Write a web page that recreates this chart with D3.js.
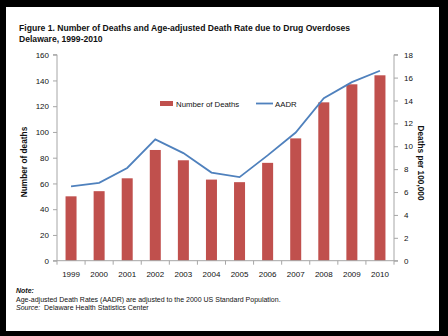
<!DOCTYPE html>
<html>
<head>
<meta charset="utf-8">
<script src="https://cdn.jsdelivr.net/npm/d3@7"></script>
<style>
  body { margin: 0; background: #000; }
  svg { display: block; font-family: Arial, "Liberation Sans", sans-serif; }
</style>
</head>
<body>
<div id="chart"></div>
<script>
const years = ["1999","2000","2001","2002","2003","2004","2005","2006","2007","2008","2009","2010"]
const deaths = [50, 54, 64, 86, 78, 63, 61, 76, 95, 123, 137, 144]
const aadr = [6.5, 6.8, 8.1, 10.6, 9.4, 7.7, 7.3, 9.2, 11.2, 14.2, 15.6, 16.6]
const leftTicks = [0, 20, 40, 60, 80, 100, 120, 140, 160]
const rightTicks = [0, 2, 4, 6, 8, 10, 12, 14, 16, 18]

const width = 448, height = 336
const svg = d3.select("#chart").append("svg")
    .attr("width", width).attr("height", height)

svg.append("rect").attr("width", width).attr("height", height).attr("fill", "#000")
svg.append("rect").attr("x", 6).attr("y", 7).attr("width", 433).attr("height", 324).attr("fill", "#fff")

// title
svg.append("text").attr("x", 19).attr("y", 31)
    .attr("font-size", 8.6).attr("font-weight", "bold").attr("fill", "#111")
    .text("Figure 1. Number of Deaths and Age-adjusted Death Rate due to Drug Overdoses")
svg.append("text").attr("x", 19).attr("y", 42)
    .attr("font-size", 8.6).attr("font-weight", "bold").attr("fill", "#111")
    .text("Delaware, 1999-2010")

const x0 = 57, x1 = 394, yTop = 54.7, yBot = 260.7

const x = d3.scaleBand().domain(years).range([x0, x1]).paddingInner(0.6).paddingOuter(0.3)
const xCenter = d3.scaleBand().domain(years).range([x0, x1])
const yL = d3.scaleLinear().domain([0, 160]).range([yBot, yTop])
const yR = d3.scaleLinear().domain([0, 18]).range([yBot, yTop])

const axisColor = "#a6a6a6"

// bars
svg.selectAll(".bar").data(years).enter().append("rect")
    .attr("class", "bar")
    .attr("x", (d, i) => xCenter(d) + xCenter.bandwidth() / 2 - 5.5)
    .attr("width", 11)
    .attr("y", (d, i) => yL(deaths[i]))
    .attr("height", (d, i) => yBot - yL(deaths[i]))
    .attr("fill", "#C0504D")

// line
const line = d3.line()
    .x((d, i) => xCenter(years[i]) + xCenter.bandwidth() / 2)
    .y(d => yR(d))
svg.append("path").datum(aadr)
    .attr("d", line)
    .attr("fill", "none")
    .attr("stroke", "#4F81BD")
    .attr("stroke-width", 1.8)

// left axis
const gL = svg.append("g").attr("transform", `translate(${x0},0)`)
    .call(d3.axisLeft(yL).tickValues(leftTicks).tickSize(4).tickPadding(4))
gL.select(".domain").attr("stroke", axisColor).attr("d", `M-4,${yTop}H0V${yBot}H-4`)
gL.selectAll(".tick line").attr("stroke", axisColor)
gL.selectAll("text").attr("font-size", 8).attr("fill", "#111").attr("font-family", "Arial, 'Liberation Sans', sans-serif")

// right axis
const gR = svg.append("g").attr("transform", `translate(${x1},0)`)
    .call(d3.axisRight(yR).tickValues(rightTicks).tickSize(4).tickPadding(6))
gR.select(".domain").attr("stroke", axisColor).attr("d", `M4,${yTop}H0V${yBot}H4`)
gR.selectAll(".tick line").attr("stroke", axisColor)
gR.selectAll("text").attr("font-size", 8).attr("fill", "#111").attr("font-family", "Arial, 'Liberation Sans', sans-serif")

// bottom axis
const gB = svg.append("g").attr("transform", `translate(0,${yBot})`)
gB.append("line").attr("x1", x0).attr("x2", x1).attr("stroke", axisColor)
gB.selectAll(".tk").data(d3.range(years.length + 1)).enter().append("line")
    .attr("x1", i => x0 + i * xCenter.step()).attr("x2", i => x0 + i * xCenter.step())
    .attr("y1", 0).attr("y2", 4).attr("stroke", axisColor)
gB.selectAll(".yl").data(years).enter().append("text")
    .attr("x", d => xCenter(d) + xCenter.bandwidth() / 2)
    .attr("y", 16.5)
    .attr("text-anchor", "middle")
    .attr("font-size", 8).attr("fill", "#111")
    .text(d => d)

// axis titles
svg.append("text")
    .attr("transform", "translate(27,162) rotate(-90)")
    .attr("text-anchor", "middle").attr("font-size", 8.3).attr("font-weight", "bold").attr("fill", "#111")
    .text("Number of deaths")
svg.append("text")
    .attr("transform", "translate(418,163) rotate(90)")
    .attr("text-anchor", "middle").attr("font-size", 8.3).attr("font-weight", "bold").attr("fill", "#111")
    .text("Deaths per 100,000")

// legend
svg.append("rect").attr("x", 160).attr("y", 101).attr("width", 13).attr("height", 5).attr("fill", "#C0504D")
svg.append("text").attr("x", 176).attr("y", 106.5).attr("font-size", 7.8).attr("fill", "#111").text("Number of Deaths")
svg.append("line").attr("x1", 256).attr("x2", 273).attr("y1", 103.5).attr("y2", 103.5)
    .attr("stroke", "#4F81BD").attr("stroke-width", 1.8)
svg.append("text").attr("x", 275).attr("y", 106.5).attr("font-size", 7.8).attr("fill", "#111").text("AADR")

// notes
svg.append("text").attr("x", 16).attr("y", 293).attr("font-size", 7).attr("font-style", "italic").attr("font-weight", "bold").attr("fill", "#111").text("Note:")
svg.append("text").attr("x", 16).attr("y", 301.5).attr("font-size", 7).attr("fill", "#111")
    .text("Age-adjusted Death Rates (AADR) are adjusted to the 2000 US Standard Population.")
const src = svg.append("text").attr("x", 16).attr("y", 310).attr("font-size", 7).attr("fill", "#111")
src.append("tspan").attr("font-style", "italic").text("Source:")
src.append("tspan").attr("xml:space", "preserve").text("  Delaware Health Statistics Center")
</script>
</body>
</html>
